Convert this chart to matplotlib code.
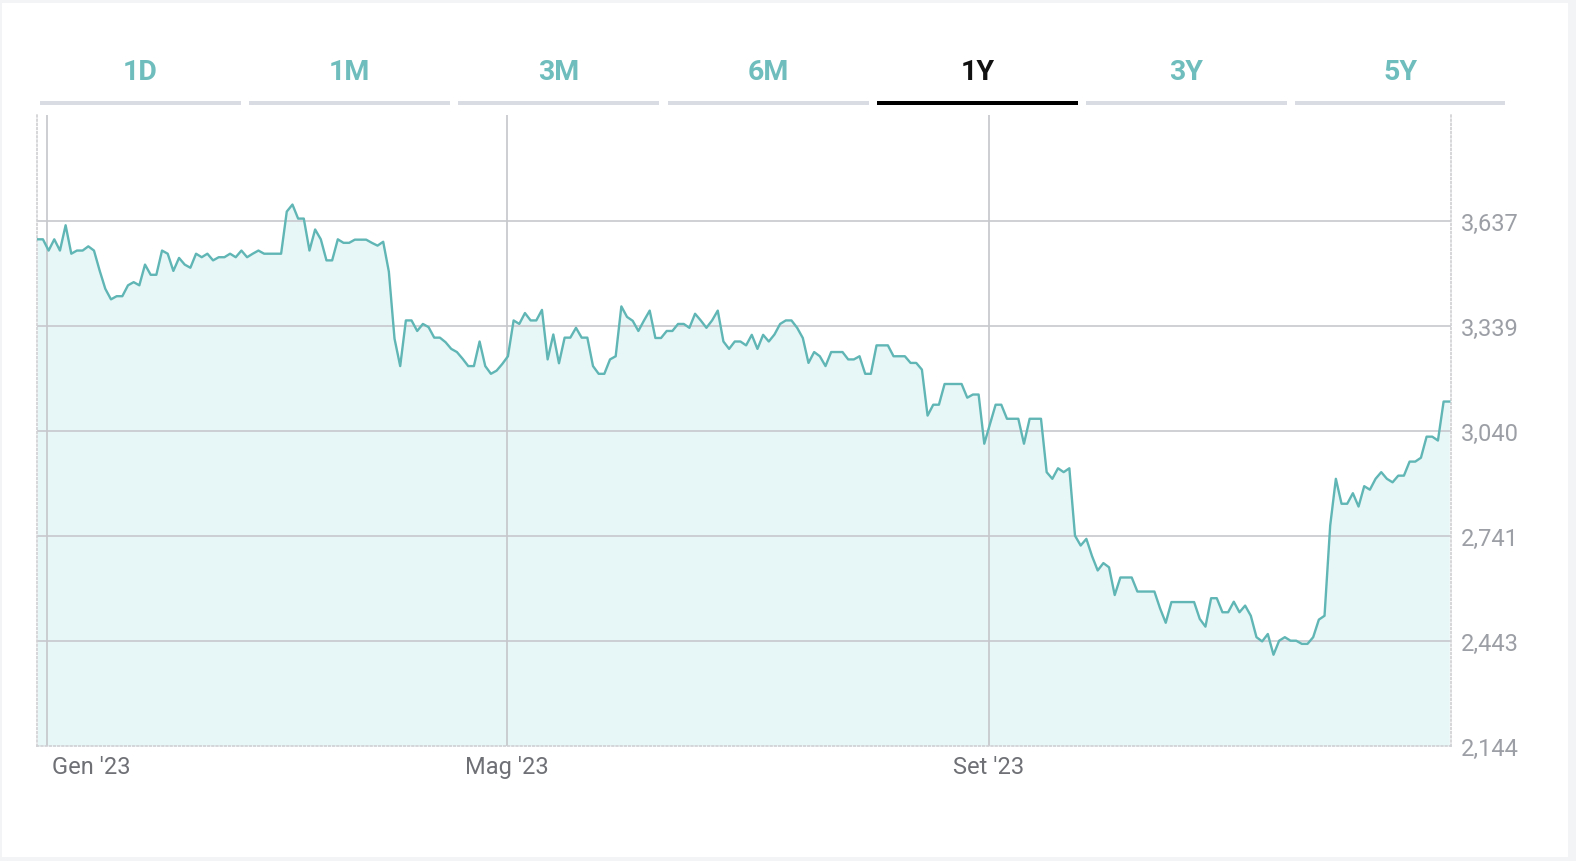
import numpy as np
import matplotlib
matplotlib.use("Agg")
import matplotlib.pyplot as plt
import matplotlib.transforms as mtransforms
from matplotlib.patches import Rectangle

plt.rcParams['font.family'] = ['Roboto', 'DejaVu Sans']

# period selector
tabs = ["1D", "1M", "3M", "6M", "1Y", "3Y", "5Y"]
active_tab = "1Y"

# daily closes, one per trading session (2023)
prices = [
    3586, 3586, 3554, 3586, 3554, 3626, 3545, 3554, 3554, 3566,
    3554, 3497, 3445, 3415, 3424, 3424, 3455, 3464, 3455, 3514,
    3485, 3485, 3554, 3545, 3496, 3533, 3514, 3505, 3545, 3535,
    3545, 3526, 3535, 3535, 3545, 3535, 3554, 3535, 3545, 3554,
    3545, 3545, 3545, 3545, 3665, 3685, 3645, 3645, 3554, 3614,
    3586, 3526, 3526, 3586, 3576, 3576, 3585, 3585, 3585, 3576,
    3568, 3579, 3494, 3303, 3225, 3355, 3355, 3325, 3345, 3336,
    3306, 3306, 3293, 3274, 3265, 3246, 3225, 3225, 3295, 3225,
    3203, 3212, 3231, 3253, 3355, 3345, 3376, 3355, 3355, 3385,
    3244, 3315, 3233, 3306, 3306, 3334, 3306, 3306, 3225, 3203,
    3203, 3244, 3253, 3395, 3365, 3354, 3325, 3355, 3383, 3305,
    3305, 3325, 3325, 3345, 3345, 3334, 3374, 3355, 3334, 3355,
    3383, 3295, 3274, 3295, 3295, 3284, 3314, 3274, 3314, 3295,
    3315, 3345, 3355, 3355, 3334, 3305, 3234, 3265, 3253, 3225,
    3265, 3265, 3265, 3244, 3244, 3253, 3203, 3203, 3284, 3284,
    3284, 3253, 3253, 3253, 3234, 3234, 3215, 3084, 3115, 3115,
    3174, 3174, 3174, 3174, 3135, 3144, 3144, 3004, 3059, 3115,
    3115, 3075, 3075, 3075, 3004, 3075, 3075, 3075, 2923, 2904,
    2934, 2923, 2934, 2742, 2714, 2733, 2684, 2643, 2664, 2652,
    2573, 2623, 2623, 2623, 2583, 2583, 2583, 2583, 2535, 2494,
    2553, 2553, 2553, 2553, 2553, 2505, 2483, 2564, 2564, 2524,
    2524, 2554, 2524, 2543, 2514, 2453, 2441, 2462, 2403, 2443,
    2453, 2443, 2443, 2434, 2434, 2453, 2503, 2514, 2771, 2904,
    2833, 2833, 2863, 2825, 2883, 2873, 2904, 2923, 2904, 2894,
    2913, 2913, 2953, 2953, 2964, 3024, 3024, 3013, 3124, 3124,
]

y_ticks = [2144, 2443, 2741, 3040, 3339, 3637]
y_labels = ["2,144", "2,443", "2,741", "3,040", "3,339", "3,637"]

month_pos = [1.66, 82.8, 167.8]          # session index where the month starts
month_labels = ["Gen '23", "Mag '23", "Set '23"]

W, H = 1576, 862
fig = plt.figure(figsize=(W / 100, H / 100), dpi=100)
fig.patch.set_facecolor("#f3f4f6")

# card + tabs drawn in pixel coordinates
bg = fig.add_axes([0, 0, 1, 1])
bg.set_xlim(0, W)
bg.set_ylim(H, 0)
bg.axis("off")
bg.add_patch(Rectangle((2, 4), 1566, 854, facecolor="white", edgecolor="none"))

teal_txt = "#6fbdbd"
step = 209.2
for i, t in enumerate(tabs):
    x0 = 40 + i * step
    w = 210 if i == len(tabs) - 1 else 201
    on = t == active_tab
    bg.add_patch(Rectangle((x0, 102), w, 4,
                           facecolor="#000000" if on else "#d9dde3", edgecolor="none"))
    bg.text(x0 + w / 2, 73, t, ha="center", va="center", fontsize=20.5,
            fontweight="semibold", color="#111111" if on else teal_txt)

# price chart
ax = fig.add_axes([36.7 / W, (H - 746.7) / H, (1450.7 - 36.7) / W, (746.7 - 116) / H])
ax.set_facecolor("none")
x = np.arange(len(prices))
ax.fill_between(x, prices, 2144, color="#e7f7f7", lw=0, zorder=1)
ax.plot(x, prices, color="#60b5b5", lw=1.7, zorder=4)

ax.set_xlim(-0.1, len(prices) - 1 + 0.25)
ax.set_ylim(2144, 3940)

for v in y_ticks[1:]:
    ax.axhline(v, color="#c9cacf", lw=1.25, zorder=2)
for m in month_pos:
    ax.axvline(m, color="#c6c8cc", lw=1.25, zorder=2)

ax.spines["top"].set_visible(False)
for side in ["left", "right", "bottom"]:
    ax.spines[side].set_color("#cfd0d3")
    ax.spines[side].set_linestyle((0, (1, 1.5)))
    ax.spines[side].set_linewidth(1.2)
    ax.spines[side].set_zorder(3)

ax.yaxis.tick_right()
ax.set_yticks(y_ticks)
ax.set_yticklabels(y_labels)
ax.tick_params(axis="y", length=0, pad=7, labelsize=17, labelcolor="#9c9fa5")

ax.set_xticks(month_pos)
ax.set_xticklabels(month_labels)
ax.tick_params(axis="x", length=0, pad=7, labelsize=17, labelcolor="#6e7076")
first = ax.get_xticklabels()[0]
first.set_horizontalalignment("left")
first.set_transform(first.get_transform() +
                    mtransforms.ScaledTranslation(5 / 100, 0, fig.dpi_scale_trans))

fig.savefig("out.png", dpi=100, facecolor=fig.get_facecolor())
